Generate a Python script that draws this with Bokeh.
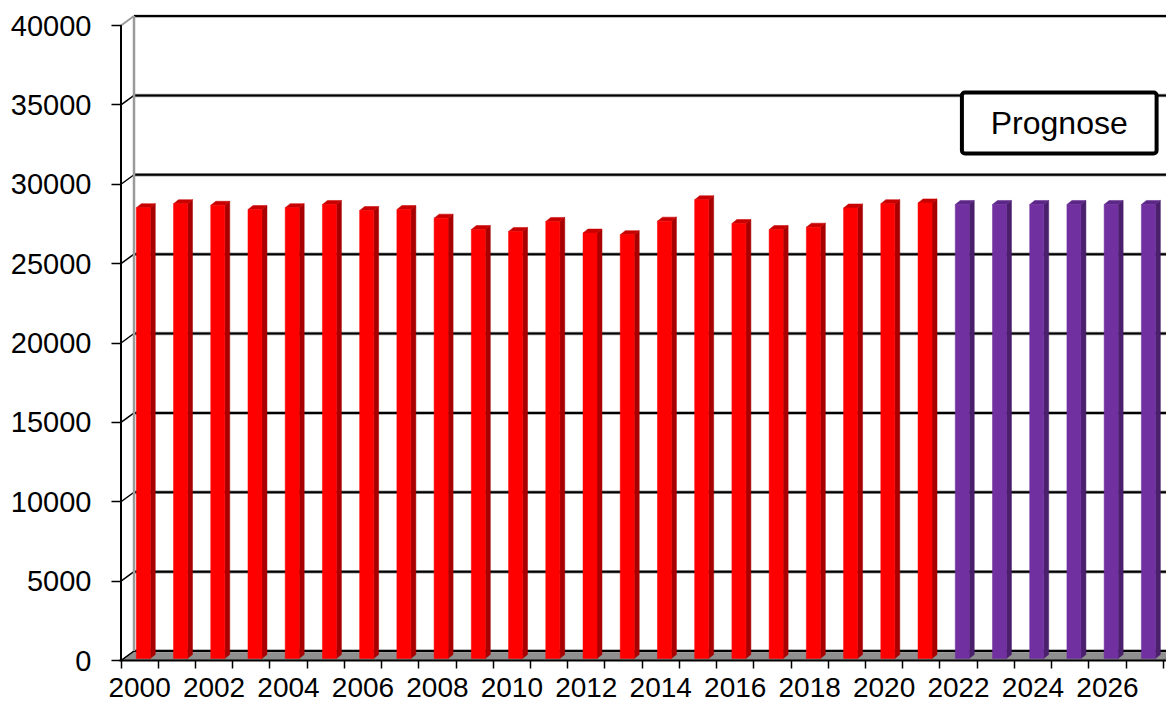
from bokeh.plotting import figure
from bokeh.models import FixedTicker, BoxAnnotation, Label, Range1d, BasicTickFormatter
from bokeh.embed import file_html
from bokeh.resources import INLINE

# ---------------- data ----------------
actual_years = [2000, 2001, 2002, 2003, 2004, 2005, 2006, 2007, 2008, 2009, 2010,
                2011, 2012, 2013, 2014, 2015, 2016, 2017, 2018, 2019, 2020, 2021]
actual_values = [28400, 28650, 28550, 28280, 28400, 28600, 28220, 28280, 27740, 27020, 26900,
                 27530, 26800, 26700, 27550, 28900, 27400, 27020, 27170, 28380, 28650, 28700]
forecast_years = [2022, 2023, 2024, 2025, 2026, 2027]
forecast_values = [28600, 28600, 28600, 28600, 28600, 28600]
y_ticks = [0, 5000, 10000, 15000, 20000, 25000, 30000, 35000, 40000]
x_label_years = [2000, 2002, 2004, 2006, 2008, 2010, 2012, 2014, 2016, 2018, 2020, 2022, 2024, 2026]
legend_text = "Prognose"

# ---------------- geometry (pixels -> data units) ----------------
W, H = 1166, 708
LEFT, TOP, BOTTOM = 119, 14, 48
frame_w = W - LEFT
frame_h = H - TOP - BOTTOM
first = actual_years[0] - 0.5
last = forecast_years[-1] + 0.5
ux = (last - first) / 1042.3               # data per px (x)
x_start = first - 1.5 * ux
x_end = x_start + frame_w * ux
ymax = y_ticks[-1]
uy = ymax / 635.0                          # data per px (y)
y_end = frame_h * uy

WALL_DX, WALL_DY = 13 * ux, 9.5 * uy
BAR_OFF, BAR_W = 15.3 * ux, 14 * ux
BAR_DX, BAR_DY = 5 * ux, 4 * uy
BAR_BASE = 2 * uy

FONT = "Liberation Sans"

p = figure(width=W, height=H, output_backend="svg", toolbar_location=None,
           x_range=Range1d(x_start, x_end), y_range=Range1d(0, y_end),
           min_border_left=LEFT, min_border_right=0, min_border_top=TOP,
           min_border_bottom=BOTTOM)
p.outline_line_color = None
p.grid.visible = False
p.background_fill_color = "white"

# ---------------- floor ----------------
p.patch([first, last, last + WALL_DX, first + WALL_DX],
        [0, 0, WALL_DY, WALL_DY],
        fill_color="#8f8f8f", line_color="#555555", line_width=1)

# ---------------- back wall grid lines ----------------
gx = [[first + WALL_DX, x_end + 1] for _ in y_ticks]
gy = [[v + WALL_DY, v + WALL_DY] for v in y_ticks]
p.multi_line(gx, gy, line_color="#a0a0a0", line_width=3.5)
p.multi_line(gx, gy, line_color="black", line_width=2)

# side wall: diagonals + back vertical edge
dx = [[first, first + WALL_DX] for _ in y_ticks]
dy = [[v, v + WALL_DY] for v in y_ticks]
p.multi_line(dx[:-1], dy[:-1], line_color="black", line_width=1.5)
p.multi_line(dx[-1:], dy[-1:], line_color="#999999", line_width=2)
p.line([first + WALL_DX, first + WALL_DX], [WALL_DY, ymax + WALL_DY],
       line_color="#9a9a9a", line_width=2.5)

# front axis line
p.line([first, first], [0, ymax], line_color="black", line_width=2)


def draw_bars(yrs, vals, front, side, topc):
    left = [y - 0.5 + BAR_OFF for y in yrs]
    right = [l + BAR_W for l in left]
    top = [BAR_BASE + v for v in vals]
    bottom = [BAR_BASE for _ in vals]
    sxs = [[r, r + BAR_DX, r + BAR_DX, r] for r in right]
    sys_ = [[BAR_BASE, BAR_BASE + BAR_DY, t + BAR_DY, t] for t in top]
    txs = [[l, r, r + BAR_DX, l + BAR_DX] for l, r in zip(left, right)]
    tys = [[t, t, t + BAR_DY, t + BAR_DY] for t in top]
    p.patches(sxs, sys_, fill_color=side, line_color=side, line_width=0.5)
    p.patches(txs, tys, fill_color=topc, line_color=topc, line_width=0.5)
    p.quad(left=left, right=right, bottom=bottom, top=top,
           fill_color=front, line_color=front, line_width=0.5)


draw_bars(actual_years, actual_values, "#ff0000", "#a80000", "#c80000")
draw_bars(forecast_years, forecast_values, "#7030a0", "#4a1f6c", "#5c2787")

# ---------------- axes ----------------
xa = p.xaxis[0]
xa.ticker = FixedTicker(ticks=x_label_years,
                        minor_ticks=[y - 0.5 for y in actual_years + forecast_years] + [last])
xa.formatter = BasicTickFormatter(use_scientific=False)
xa.axis_line_color = "black"
xa.axis_line_width = 2
xa.major_tick_out = 8
xa.major_tick_in = 0
xa.major_tick_line_color = None
xa.minor_tick_out = 8
xa.minor_tick_in = 0
xa.minor_tick_line_color = "black"
xa.minor_tick_line_width = 1.5
xa.major_label_standoff = 9
xa.major_label_text_font = FONT
xa.major_label_text_font_size = "28px"
xa.major_label_text_color = "black"

ya = p.yaxis[0]
ya.ticker = FixedTicker(ticks=y_ticks, minor_ticks=[])
ya.formatter = BasicTickFormatter(use_scientific=False)
ya.axis_line_color = None
ya.major_tick_out = 8
ya.major_tick_in = 2
ya.major_tick_line_color = "black"
ya.major_tick_line_width = 1.5
ya.minor_tick_line_color = None
ya.major_label_standoff = 20
ya.major_label_text_font = FONT
ya.major_label_text_font_size = "29px"
ya.major_label_text_color = "black"

# ---------------- legend box ----------------
box = BoxAnnotation(left=2022.09, right=2027.32, bottom=31940, top=35780,
                    fill_color="white", fill_alpha=1.0, line_color="black",
                    line_width=4, line_alpha=1.0, border_radius=3)
p.add_layout(box)
p.add_layout(Label(x=2024.705, y=33860, text=legend_text, text_align="center",
                   text_baseline="middle", text_font=FONT, text_font_size="32px",
                   text_color="black"))

open("out.html", "w").write(file_html(p, INLINE))
